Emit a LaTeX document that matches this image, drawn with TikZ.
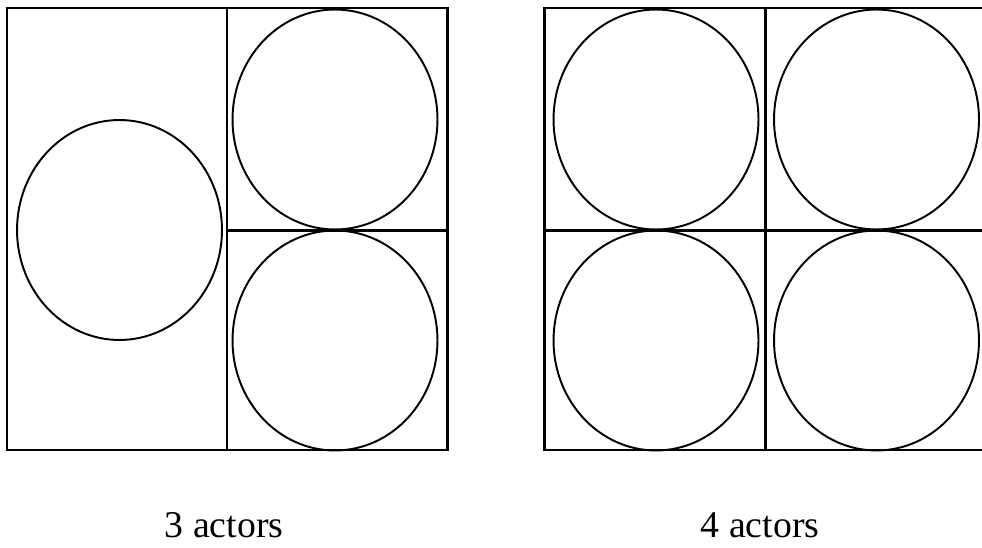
\documentclass[tikz,border=0pt]{standalone}
\usepackage{fontspec}
\setmainfont{Liberation Serif}
\usetikzlibrary{shapes.geometric}

\begin{document}
\begin{tikzpicture}[
  x=0.02cm, y=-0.02cm,
  frame/.style={draw, line width=1.7pt},
  actor/.style={ellipse, draw, line width=1.1pt, inner sep=0pt,
    minimum width=4.1cm, minimum height=4.4cm},
  caption/.style={anchor=base, font=\fontsize{21.5}{24}\selectfont}
]
  \path[use as bounding box, clip] (0,0) rectangle (982,547);

  % 3 actors
  \draw[frame] (7,8) rectangle (447,450);
  \draw[frame] (227,8) -- (227,450);
  \draw[frame] (227,230.5) -- (447,230.5);
  \node[actor] (a1) at (119.5,230) {};
  \node[actor] (a2) at (335,119.5) {};
  \node[actor] (a3) at (335,340.5) {};
  \node[caption] (cap3) at (224,537) {3 actors};

  % 4 actors
  \draw[frame] (544,8) rectangle (986,450);
  \draw[frame] (765,8) -- (765,450);
  \draw[frame] (544,230.5) -- (986,230.5);
  \node[actor] (b1) at (656,119.5) {};
  \node[actor] (b2) at (876.5,119.5) {};
  \node[actor] (b3) at (656,340.5) {};
  \node[actor] (b4) at (876.5,340.5) {};
  \node[caption] (cap4) at (760,537) {4 actors};
\end{tikzpicture}
\end{document}
